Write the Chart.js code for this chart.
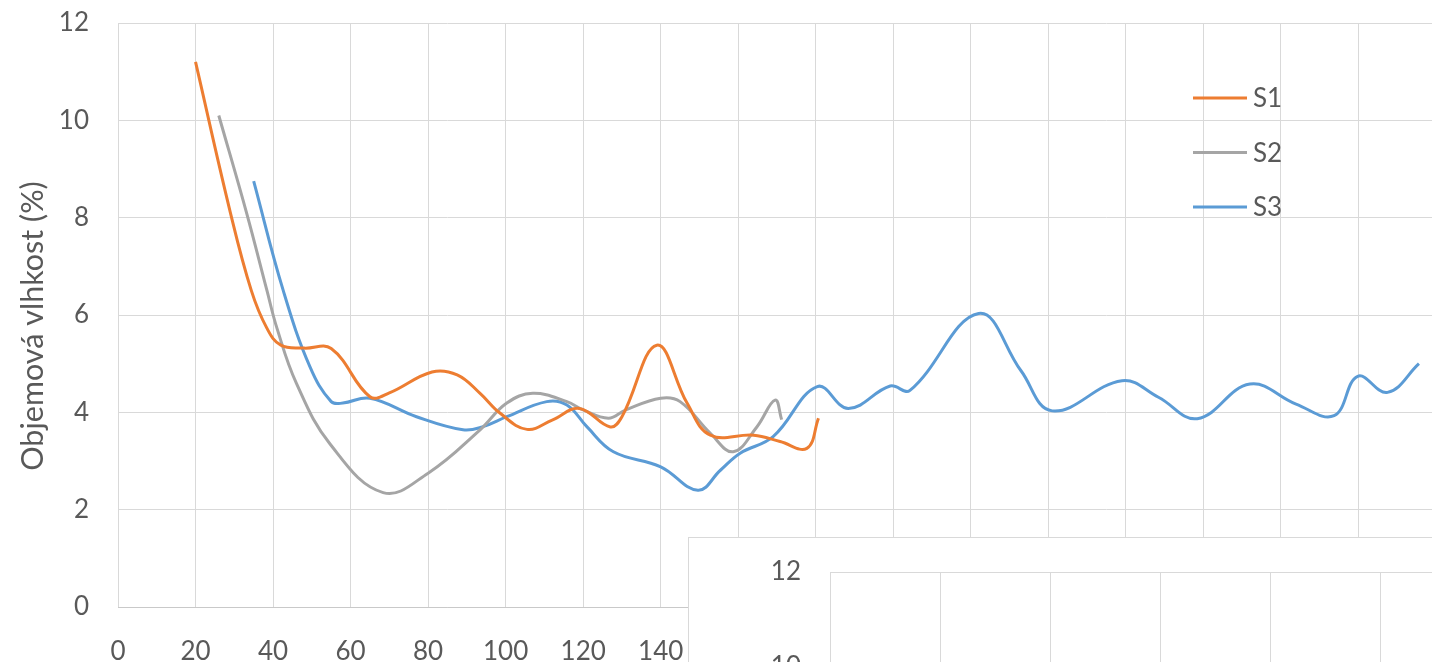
<!DOCTYPE html>
<html><head><meta charset="utf-8">
<script src="https://cdn.jsdelivr.net/npm/chart.js@4.4.1/dist/chart.umd.min.js"></script>
<style>
html,body{margin:0;padding:0;overflow:hidden;background:#fff;width:1432px;height:662px;}
#main{position:absolute;left:0;top:0;width:1477px;height:662px;}
#inset{position:absolute;left:688px;top:537px;width:820px;height:614px;border:1px solid #d9d9d9;background:#fff;}
</style></head><body>
<div id="main"><canvas id="c1"></canvas></div>
<div id="inset"><canvas id="c2"></canvas></div>
<script>
// ---- data ----
const seriesNames = ['S1', 'S2', 'S3'];
const s1X = [20, 29, 34.4, 38.4, 42, 48, 55, 65, 70, 81, 87.5, 93.4, 98.6, 105.5, 112, 119, 127, 130, 139, 146.8, 152.8, 164, 170.8, 177.7, 180.7];
const s1Y = [11.2, 8.1, 6.5, 5.73, 5.38, 5.32, 5.31, 4.32, 4.4, 4.83, 4.77, 4.39, 3.98, 3.65, 3.84, 4.08, 3.7, 3.91, 5.38, 4.19, 3.53, 3.53, 3.4, 3.26, 3.88];
const s2X = [26, 33.2, 38.4, 41, 46, 54.7, 68.4, 80, 93.4, 100.3, 107, 115.8, 120, 126.5, 131, 140, 145, 152.8, 158.7, 164.8, 169.5, 171.2];
const s2Y = [10.1, 8.09, 6.51, 5.73, 4.6, 3.35, 2.35, 2.75, 3.64, 4.19, 4.39, 4.22, 4.05, 3.88, 4.05, 4.29, 4.22, 3.57, 3.19, 3.7, 4.25, 3.85];
const s3X = [35, 42.6, 49.5, 55, 58, 65, 77, 89, 94, 100.3, 110.6, 115.8, 121, 127.8, 140, 149.6, 155.4, 160.5, 169, 180.4, 188.4, 199.2, 204.3, 222, 232.9, 241, 259, 268.4, 278.4, 292, 303.9, 313.7, 319.8, 327.5, 335.6];
const s3Y = [8.75, 6.51, 4.94, 4.22, 4.19, 4.29, 3.91, 3.64, 3.7, 3.91, 4.22, 4.15, 3.7, 3.19, 2.88, 2.4, 2.81, 3.16, 3.5, 4.53, 4.08, 4.54, 4.45, 6.03, 4.86, 4.03, 4.65, 4.31, 3.87, 4.58, 4.17, 3.93, 4.74, 4.41, 5.0];
const seriesColors = ['#ED7D31', '#A5A5A5', '#5B9BD5'];
const xTickStep = 20, xMin = 0, xMax = 340;
const yTickStep = 2, yMin = 0, yMax = 12;
const yTitle = 'Objemová vlhkost (%)';

const zip = (xs, ys) => xs.map((x, i) => ({x, y: ys[i]}));
const allX = [s1X, s2X, s3X], allY = [s1Y, s2Y, s3Y];

Chart.defaults.font.family = 'Lato, "Open Sans", sans-serif';
Chart.defaults.color = '#595959';
const GRID = '#d9d9d9';
const FONT = {size: 26};

const legendPlugin = {
  id: 'insideLegend',
  afterDatasetsDraw(chart) {
    const ctx = chart.ctx;
    ctx.save();
    chart.data.datasets.forEach((ds, i) => {
      const y = 98 + i * 54.5;
      ctx.strokeStyle = ds.borderColor; ctx.lineWidth = 3; ctx.lineCap = 'butt';
      ctx.beginPath(); ctx.moveTo(1193, y); ctx.lineTo(1247, y); ctx.stroke();
      ctx.fillStyle = '#595959'; ctx.font = '26px Lato'; ctx.textBaseline = 'middle'; ctx.textAlign = 'left';
      ctx.fillText(ds.label, 1253, y + 1);
    });
    ctx.restore();
  }
};

const yTitlePlugin = {
  id: 'yTitle',
  afterDraw(chart) {
    const ctx = chart.ctx;
    ctx.save();
    ctx.translate(33, 326);
    ctx.rotate(-Math.PI / 2);
    ctx.fillStyle = '#595959'; ctx.font = '30.5px Lato';
    ctx.textAlign = 'center'; ctx.textBaseline = 'middle';
    ctx.fillText(yTitle, 0, 0);
    ctx.restore();
  }
};

new Chart(document.getElementById('c1'), {
  type: 'line',
  data: {
    datasets: seriesNames.map((n, i) => ({
      label: n, data: zip(allX[i], allY[i]), borderColor: seriesColors[i],
      backgroundColor: seriesColors[i], borderWidth: 3, pointRadius: 0, tension: 0.4, fill: false
    }))
  },
  options: {
    responsive: true, maintainAspectRatio: false, animation: false,
    layout: {padding: {left: 0, top: 23, right: 41, bottom: 0}},
    plugins: {legend: {display: false}, tooltip: {enabled: false}},
    scales: {
      x: {
        type: 'linear', min: xMin, max: xMax,
        ticks: {stepSize: xTickStep, font: FONT, padding: 29, maxRotation: 0, color: '#595959'},
        grid: {color: GRID, drawTicks: false},
        border: {color: '#c9c9c9', width: 1},
        afterFit(s) { s.height = 55; s.paddingLeft = 0; s.paddingRight = 0; }
      },
      y: {
        min: yMin, max: yMax,
        ticks: {stepSize: yTickStep, font: FONT, padding: 29, color: '#595959'},
        grid: {color: GRID, drawTicks: false},
        border: {display: false},
        afterFit(s) { s.width = 118; s.paddingTop = 0; s.paddingBottom = 0; }
      }
    }
  },
  plugins: [legendPlugin, yTitlePlugin]
});

// inset (overlapping second chart, only its top-left corner visible)
const insetXMin = 0, insetXMax = 6, insetXStep = 1;
new Chart(document.getElementById('c2'), {
  type: 'line',
  data: {datasets: []},
  options: {
    responsive: true, maintainAspectRatio: false, animation: false,
    layout: {padding: {left: 0, top: 34, right: 19, bottom: 10}},
    plugins: {legend: {display: false}, tooltip: {enabled: false}},
    scales: {
      x: {
        type: 'linear', min: insetXMin, max: insetXMax,
        ticks: {stepSize: insetXStep, display: false},
        grid: {color: GRID, drawTicks: false},
        border: {color: '#c9c9c9'},
        afterFit(s) { s.height = 0; s.paddingLeft = 0; s.paddingRight = 0; }
      },
      y: {
        min: yMin, max: yMax,
        ticks: {stepSize: yTickStep, font: FONT, padding: 29, color: '#595959'},
        grid: {color: GRID, drawTicks: false},
        border: {display: false},
        afterFit(s) { s.width = 141; s.paddingTop = 0; s.paddingBottom = 0; }
      }
    }
  }
});
</script>
</body></html>
